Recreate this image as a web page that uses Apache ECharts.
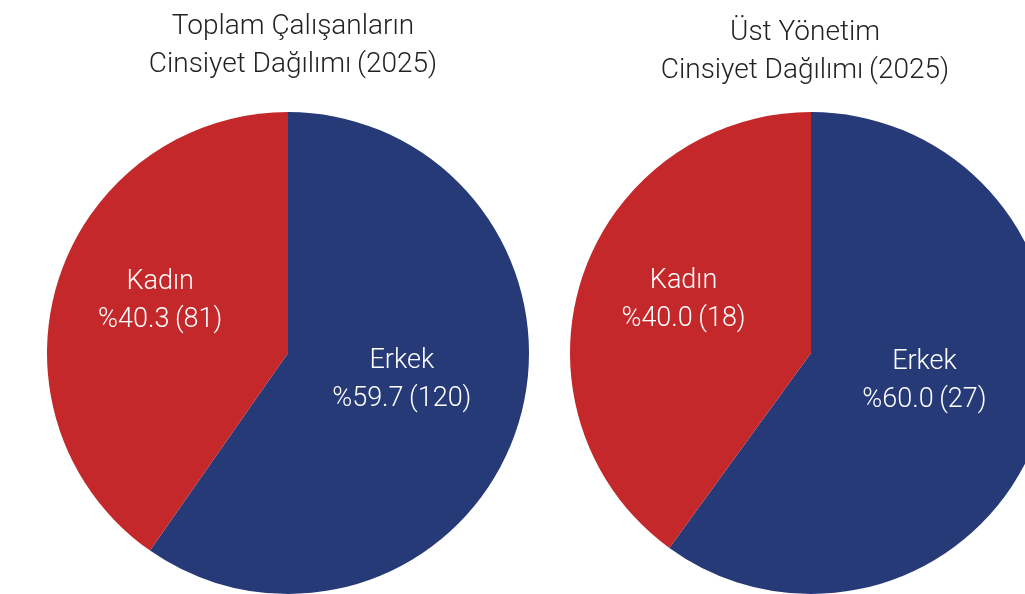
<!DOCTYPE html>
<html>
<head>
<meta charset="utf-8">
<script src="https://cdn.jsdelivr.net/npm/echarts@6/dist/echarts.min.js"></script>
<style>
  html, body { margin: 0; padding: 0; background: #fff; }
  #chart { width: 1025px; height: 594px; }
</style>
</head>
<body>
<div id="chart"></div>
<script>
// veriler
var categories = ['Erkek', 'Kadın'];
var totalValues = [120, 81];
var mgmtValues = [27, 18];
var titles = ['Toplam Çalışanların\nCinsiyet Dağılımı\u2009(2025)', 'Üst Yönetim\nCinsiyet Dağılımı\u2009(2025)'];
var colors = ['#263A78', '#C4282A'];

var myChart = echarts.init(document.getElementById('chart'));

// etiket kaydırmaları (Excel yerleşimine yakın)
var labelOffsets = [[-4, -10], [-10, -15]];

function pieData(values) {
    var d = [];
    for (var i = 0; i < categories.length; i++) {
        d.push({ name: categories[i], value: values[i], label: { offset: labelOffsets[i] } });
    }
    return d;
}

function pieSeries(values, center) {
    return {
        type: 'pie',
        center: center,
        radius: 241,
        startAngle: 90,
        clockwise: true,
        silent: true,
        label: {
            show: true,
            position: 'inside',
            color: '#fff',
            fontFamily: 'Roboto',
            fontWeight: 300,
            fontSize: 27,
            lineHeight: 38,
            formatter: function (p) {
                return p.name + '\n%' + p.percent.toFixed(1) + '\u2009(' + p.value + ')';
            }
        },
        labelLine: { show: false },
        itemStyle: { borderWidth: 0 },
        emphasis: { disabled: true },
        data: pieData(values)
    };
}

var titleStyle = {
    color: '#222',
    fontFamily: 'Roboto',
    fontWeight: 300,
    fontSize: 28,
    lineHeight: 38
};

var option = {
    color: colors,
    animation: false,
    title: [{
        text: titles[0],
        left: 288,
        top: 3,
        textAlign: 'center',
        textStyle: titleStyle
    }, {
        text: titles[1],
        left: 800,
        top: 9,
        textAlign: 'center',
        textStyle: titleStyle
    }],
    series: [
        pieSeries(totalValues, [288, 353]),
        pieSeries(mgmtValues, [811, 353])
    ]
};

myChart.setOption(option);
</script>
</body>
</html>
